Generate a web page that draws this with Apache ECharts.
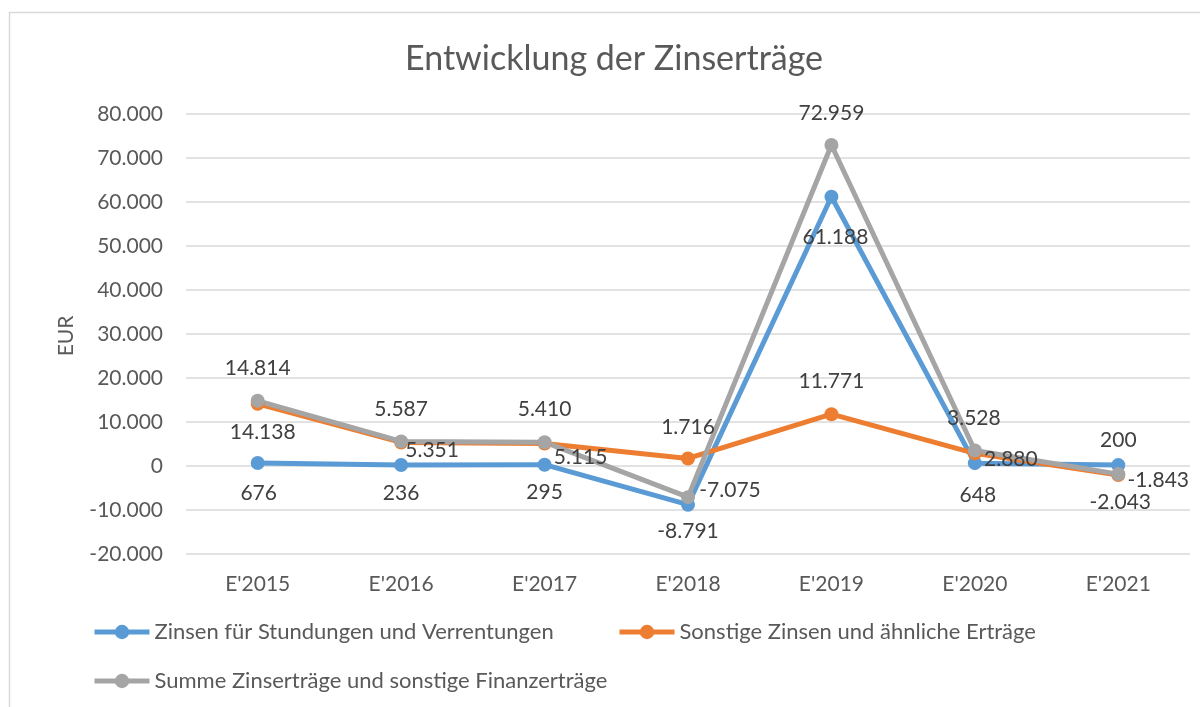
<!DOCTYPE html>
<html>
<head>
<meta charset="utf-8">
<script src="https://cdn.jsdelivr.net/npm/echarts@6/dist/echarts.min.js"></script>
<style>
html,body{margin:0;padding:0;background:#fff;}
#chart{width:1200px;height:707px;}
</style>
</head>
<body>
<div id="chart"></div>
<script>
// ---- data ----
var categories = ["E'2015", "E'2016", "E'2017", "E'2018", "E'2019", "E'2020", "E'2021"];
var seriesNames = [
  "Zinsen für Stundungen und Verrentungen",
  "Sonstige Zinsen und ähnliche Erträge",
  "Summe Zinserträge und sonstige Finanzerträge"
];
var zinsenStundungen = [676, 236, 295, -8791, 61188, 648, 200];
var sonstigeZinsen = [14138, 5351, 5115, 1716, 11771, 2880, -2043];
var summeZinsertraege = [14814, 5587, 5410, -7075, 72959, 3528, -1843];
var yTicks = { min: -20000, max: 80000, interval: 10000 };

// ---- label placement (style: label centre offset from point, px) ----
var offsStundungen = [[1,30],[0,28],[0,28],[0,27],[4,40],[3,32],[0,-25]];
var offsSonstige = [[5,28],[31,8],[36,14],[0,-31],[0,-33],[36,6],[2,27]];
var offsSumme = [[0,-33],[0,-32],[0,-33],[42,-7],[0,-32],[-1,-32],[40,6]];

function fmt(v) {
  var neg = v < 0;
  var s = String(Math.abs(Math.round(v)));
  var out = '';
  while (s.length > 3) { out = '.' + s.slice(-3) + out; s = s.slice(0, -3); }
  out = s + out;
  return (neg ? '-' : '') + out;
}

var FONT = 'Lato';
var colors = ['#5B9BD5', '#ED7D31', '#A5A5A5'];
var SYM = 14;

function build(values, offs) {
  return values.map(function (v, i) {
    return {
      value: v,
      label: {
        show: true,
        position: [SYM / 2 + offs[i][0], SYM / 2 + offs[i][1]],
        align: 'center',
        verticalAlign: 'middle'
      }
    };
  });
}

function mkSeries(name, values, offs, color) {
  return {
    name: name,
    type: 'line',
    data: build(values, offs),
    symbol: 'circle',
    symbolSize: SYM,
    lineStyle: { width: 5, color: color },
    itemStyle: { color: color },
    emphasis: { disabled: true },
    animation: false,
    label: {
      show: true,
      formatter: function (p) { return fmt(p.value); },
      color: '#404040',
      fontFamily: FONT,
      fontSize: 21
    },
    labelLayout: { hideOverlap: false }
  };
}

var chart = echarts.init(document.getElementById('chart'), null, { renderer: 'canvas' });
var legendText = { color: '#595959', fontFamily: FONT, fontSize: 22 };
function mkLegend(name, left, top) {
  return {
    data: [name], left: left, top: top, padding: 0,
    itemWidth: 55, itemHeight: 18,
    lineStyle: { width: 5 },
    textStyle: legendText, selectedMode: false
  };
}
chart.setOption({
  backgroundColor: '#ffffff',
  animation: false,
  color: colors,
  grid: { left: 186, right: 10, top: 114, bottom: 153, containLabel: false },
  legend: [
    mkLegend(seriesNames[0], 92, 621),
    mkLegend(seriesNames[1], 617, 621),
    mkLegend(seriesNames[2], 92, 670)
  ],
  xAxis: {
    type: 'category',
    data: categories,
    boundaryGap: true,
    axisLine: { show: false },
    axisTick: { show: false },
    axisLabel: { color: '#595959', fontFamily: FONT, fontSize: 21, margin: 20 },
    splitLine: { show: false }
  },
  yAxis: {
    type: 'value',
    min: yTicks.min,
    max: yTicks.max,
    interval: yTicks.interval,
    axisLine: { show: false },
    axisTick: { show: false },
    axisLabel: { color: '#595959', fontFamily: FONT, fontSize: 21, margin: 23, formatter: fmt },
    splitLine: { lineStyle: { color: '#D9D9D9', width: 1.5 } }
  },
  graphic: [
    { type: 'rect', shape: { x: 9.5, y: 12.5, width: 1300, height: 800 }, style: { fill: 'none', stroke: '#D9D9D9', lineWidth: 1.5 }, silent: true, z: -10 },
    { type: 'text', x: 614, y: 59, style: { text: 'Entwicklung der Zinserträge', fill: '#595959', font: '34px Lato', textAlign: 'center', textVerticalAlign: 'middle' }, silent: true },
    { type: 'text', x: 66, y: 336, rotation: Math.PI / 2, style: { text: 'EUR', fill: '#595959', font: '21px Lato', textAlign: 'center', textVerticalAlign: 'middle' }, silent: true }
  ],
  series: [
    mkSeries(seriesNames[0], zinsenStundungen, offsStundungen, colors[0]),
    mkSeries(seriesNames[1], sonstigeZinsen, offsSonstige, colors[1]),
    mkSeries(seriesNames[2], summeZinsertraege, offsSumme, colors[2])
  ]
});
</script>
</body>
</html>
